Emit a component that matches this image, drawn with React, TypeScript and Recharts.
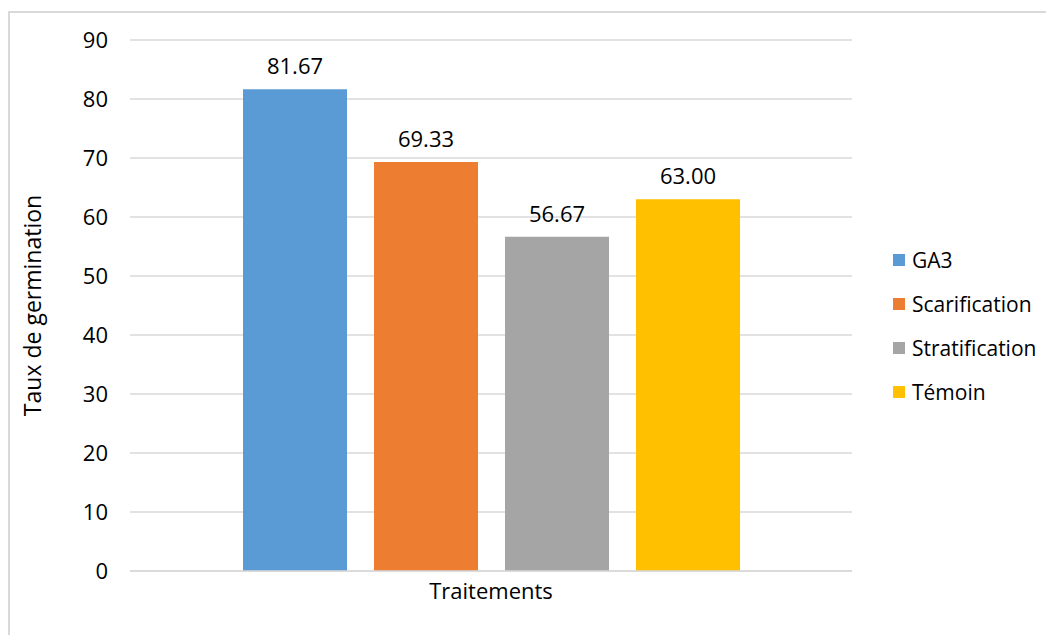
import React from "react";
import { BarChart, Bar, XAxis, YAxis, CartesianGrid, Legend, LabelList } from "recharts";

const categories = ["Traitements"];
const seriesNames = ["GA3", "Scarification", "Stratification", "Témoin"];
const seriesValues = [81.67, 69.33, 56.67, 63.0];
const seriesColors = ["#5B9BD5", "#ED7D31", "#A5A5A5", "#FFC000"];
const yTicks = [0, 10, 20, 30, 40, 50, 60, 70, 80, 90];

const data = categories.map((c) => {
  const row: Record<string, any> = { name: c };
  seriesNames.forEach((s, i) => {
    row[s] = seriesValues[i];
  });
  return row;
});

const FONT = "'Open Sans', sans-serif";

const LegendContent = (props: any) => {
  const { payload } = props;
  return (
    <div style={{ fontFamily: FONT, fontSize: 21, color: "#000" }}>
      {(payload || []).map((p: any) => (
        <div key={p.value} style={{ display: "flex", alignItems: "center", height: 44 }}>
          <span style={{ display: "inline-block", width: 12, height: 12, background: p.color, marginRight: 7 }} />
          <span>{p.value}</span>
        </div>
      ))}
    </div>
  );
};

export default function App() {
  return (
    <div style={{ width: 1046, height: 627, position: "relative", overflow: "hidden", background: "#fff" }}>
      <div
        style={{
          position: "absolute",
          left: 0,
          top: 3,
          width: 1100,
          height: 700,
          borderLeft: "2px solid #d9d9d9",
          borderTop: "2px solid #d9d9d9",
        }}
      />
      <div style={{ position: "absolute", left: 0, top: 0 }}>
        <BarChart
          width={1046}
          height={627}
          data={data}
          margin={{ top: 32, right: 202, left: 0, bottom: 34 }}
          barSize={104}
          barGap={27}
        >
          <CartesianGrid vertical={false} stroke="#d9d9d9" strokeWidth={1.5} />
          <XAxis
            dataKey="name"
            axisLine={{ stroke: "#d9d9d9", strokeWidth: 1.5 }}
            tickLine={false}
            tick={{ fill: "#000", fontSize: 22, fontFamily: FONT }}
            tickMargin={6}
          />
          <YAxis
            width={122}
            domain={[0, 90]}
            ticks={yTicks}
            axisLine={false}
            tickLine={false}
            tick={{ fill: "#000", fontSize: 22, fontFamily: FONT }}
            tickMargin={16}
            label={{
              value: "Taux de germination",
              angle: -90,
              position: "insideLeft",
              offset: 25,
              style: { textAnchor: "middle", fill: "#000", fontSize: 23, fontFamily: FONT },
            }}
          />
          <Legend
            layout="vertical"
            align="center"
            verticalAlign="middle"
            wrapperStyle={{ left: 885, top: 230, width: 160 }}
            content={<LegendContent />}
          />
          {seriesNames.map((s, i) => (
            <Bar key={s} dataKey={s} fill={seriesColors[i]} isAnimationActive={false}>
              <LabelList
                dataKey={s}
                position="top"
                offset={15}
                formatter={(v: any) => Number(v).toFixed(2)}
                style={{ fill: "#000", fontSize: 22, fontFamily: FONT }}
              />
            </Bar>
          ))}
        </BarChart>
      </div>
    </div>
  );
}
